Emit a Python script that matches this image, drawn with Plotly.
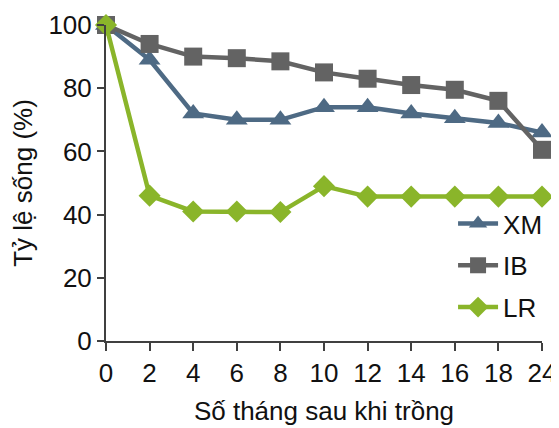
import plotly.graph_objects as go

months = ["0", "2", "4", "6", "8", "10", "12", "14", "16", "18", "24"]
xm = [100, 89, 72, 70, 70, 74, 74, 72, 70.5, 69, 66]
ib = [100, 94, 90, 89.5, 88.5, 85, 83, 81, 79.5, 76, 60.5]
lr = [100, 46, 41, 41, 40.8, 49, 45.7, 45.7, 45.7, 45.7, 45.7]

idx = list(range(len(months)))
font = "Liberation Sans, Arial, sans-serif"
FS = 26

fig = go.Figure()
series = [
    ("XM", xm, "#4E6A84", "triangle-up", 19),
    ("IB", ib, "#636363", "square", 18),
    ("LR", lr, "#8AB52A", "diamond", 17),
]
for i, (name, vals, col, sym, sz) in enumerate(series):
    fig.add_trace(go.Scatter(
        x=idx, y=vals, name=name, mode="lines+markers",
        line=dict(color=col, width=4.5),
        marker=dict(symbol=sym, size=sz, color=col),
        cliponaxis=False, legendgroup=name,
    ))

fig.update_layout(
    width=559, height=428,
    margin=dict(l=98, r=25, t=17, b=95),
    paper_bgcolor="white", plot_bgcolor="white",
    font=dict(family=font, size=FS, color="#111111"),
    showlegend=True,
    legend=dict(x=0.796, y=0.446, xanchor="left", yanchor="top",
                font=dict(size=FS), tracegroupgap=5,
                bgcolor="rgba(0,0,0,0)", itemwidth=40),
    xaxis=dict(
        range=[0, 10], tickmode="array", tickvals=idx, ticktext=months,
        showline=True, linecolor="#404040", linewidth=2,
        ticks="outside", ticklen=8, tickwidth=2, tickcolor="#404040",
        showgrid=False, zeroline=False, automargin=False,
        title=dict(text="Số tháng sau khi trồng", font=dict(size=FS), standoff=15),
        tickfont=dict(size=FS),
    ),
    yaxis=dict(
        range=[0, 100], tickvals=[0, 20, 40, 60, 80, 100],
        showline=True, linecolor="#404040", linewidth=2,
        ticks="outside", ticklen=7, tickwidth=2, tickcolor="#404040",
        showgrid=False, zeroline=False, automargin=False,
        title=dict(text="Tỷ lệ sống (%)", font=dict(size=FS), standoff=22),
        tickfont=dict(size=FS),
    ),
)

fig.write_html("out.html")
